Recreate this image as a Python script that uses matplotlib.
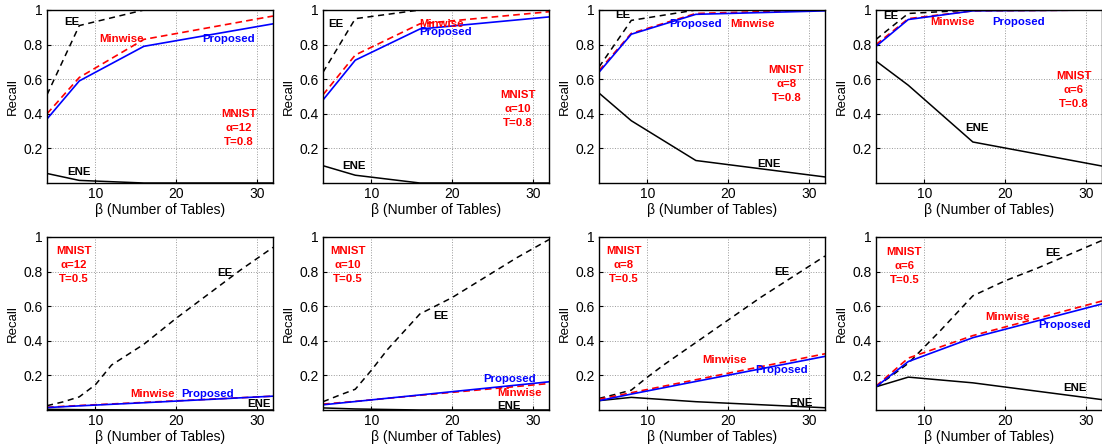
import matplotlib
matplotlib.use("Agg")
import matplotlib.pyplot as plt

plt.rcParams["font.family"] = ["Liberation Sans", "DejaVu Sans"]

# number of hash tables on the x axis
beta = [4, 8, 16, 32]
beta_fine = [4, 6, 8, 10, 12, 16, 20, 24, 28, 32]

alphas = [12, 10, 8, 6]
thresholds = [0.8, 0.5]

# recall at T=0.8, one list per alpha (12, 10, 8, 6)
ee_t08 = [[0.51, 0.91, 1.0, 1.0],
          [0.64, 0.95, 1.0, 1.0],
          [0.67, 0.94, 1.0, 1.0],
          [0.83, 0.98, 1.0, 1.0]]
minwise_t08 = [[0.40, 0.61, 0.83, 0.965],
               [0.51, 0.74, 0.92, 0.99],
               [0.65, 0.865, 0.98, 1.0],
               [0.80, 0.95, 0.995, 1.0]]
proposed_t08 = [[0.37, 0.59, 0.79, 0.92],
                [0.48, 0.71, 0.89, 0.96],
                [0.64, 0.86, 0.975, 0.995],
                [0.79, 0.945, 0.995, 1.0]]
ene_t08 = [[0.055, 0.015, 0.0, 0.0],
           [0.10, 0.045, 0.0, 0.0],
           [0.52, 0.36, 0.13, 0.035],
           [0.705, 0.565, 0.237, 0.098]]

# recall at T=0.5 (EE sampled on beta_fine)
ee_t05 = [[0.025, 0.047, 0.076, 0.146, 0.26, 0.38, 0.53, 0.67, 0.81, 0.94],
          [0.048, 0.085, 0.12, 0.23, 0.35, 0.555, 0.65, 0.765, 0.88, 0.985],
          [0.067, 0.09, 0.115, 0.19, 0.26, 0.39, 0.52, 0.65, 0.77, 0.89],
          [0.134, 0.20, 0.27, 0.365, 0.46, 0.66, 0.747, 0.82, 0.90, 0.98]]
minwise_t05 = [[0.016, 0.026, 0.044, 0.08],
               [0.034, 0.05, 0.085, 0.153],
               [0.062, 0.10, 0.175, 0.325],
               [0.138, 0.30, 0.43, 0.63]]
proposed_t05 = [[0.014, 0.024, 0.042, 0.08],
                [0.03, 0.049, 0.087, 0.163],
                [0.054, 0.092, 0.165, 0.31],
                [0.134, 0.28, 0.418, 0.613]]
ene_t05 = [[0.004, 0.002, 0.0, 0.0],
           [0.012, 0.006, 0.0, 0.0],
           [0.054, 0.073, 0.048, 0.013],
           [0.134, 0.19, 0.157, 0.06]]

# where the curve names and the dataset box sit in each panel (x, y)
label_pos = {
    (0.8, 12): dict(EE=(7.1, 0.93), Minwise=(13.2, 0.83), Proposed=(26.5, 0.83), ENE=(8.0, 0.065), info=(27.8, 0.32)),
    (0.8, 10): dict(EE=(5.6, 0.92), Minwise=(18.7, 0.92), Proposed=(19.2, 0.87), ENE=(7.9, 0.10), info=(28.1, 0.43)),
    (0.8, 8): dict(EE=(7.0, 0.97), Minwise=(23.0, 0.92), Proposed=(16.0, 0.92), ENE=(25.0, 0.11), info=(27.2, 0.575)),
    (0.8, 6): dict(EE=(5.9, 0.965), Minwise=(13.5, 0.93), Proposed=(21.7, 0.93), ENE=(16.5, 0.32), info=(28.5, 0.54)),
    (0.5, 12): dict(EE=(26.0, 0.79), Minwise=(17.1, 0.095), Proposed=(23.9, 0.095), ENE=(30.3, 0.035), info=(7.3, 0.84)),
    (0.5, 10): dict(EE=(18.6, 0.545), Minwise=(28.4, 0.096), Proposed=(27.1, 0.18), ENE=(27.1, 0.025), info=(7.1, 0.84)),
    (0.5, 8): dict(EE=(26.6, 0.80), Minwise=(19.6, 0.29), Proposed=(26.6, 0.23), ENE=(29.0, 0.04), info=(7.1, 0.84)),
    (0.5, 6): dict(EE=(25.9, 0.91), Minwise=(20.3, 0.54), Proposed=(27.3, 0.49), ENE=(28.6, 0.13), info=(7.5, 0.83)),
}

W, H = 1102, 447
fig = plt.figure(figsize=(W / 100, H / 100), dpi=100)

lefts = [47, 323, 599, 876]
row_bottoms = [183, 410]
ax_w, ax_h = 226, 173

series = {
    0.8: (ee_t08, minwise_t08, proposed_t08, ene_t08, beta),
    0.5: (ee_t05, minwise_t05, proposed_t05, ene_t05, beta_fine),
}

lab_kw = dict(fontsize=8.2, fontweight="bold", ha="center", va="center")

for r, T in enumerate(thresholds):
    ee, mw, pr, ene, ee_x = series[T]
    for c, a in enumerate(alphas):
        ax = fig.add_axes([lefts[c] / W, 1 - row_bottoms[r] / H, ax_w / W, ax_h / H])
        ax.plot(ee_x, ee[c], color="black", linestyle=(0, (4, 3)), linewidth=1.1)
        ax.plot(beta, ene[c], color="black", linewidth=1.1)
        ax.plot(beta, mw[c], color="red", linestyle=(0, (4, 2.5)), linewidth=1.2)
        ax.plot(beta, pr[c], color="blue", linewidth=1.2)

        ax.set_xlim(4, 32)
        ax.set_ylim(0, 1)
        ax.set_xticks([10, 20, 30])
        ax.set_yticks([0.2, 0.4, 0.6, 0.8, 1.0])
        ax.set_yticklabels(["0.2", "0.4", "0.6", "0.8", "1"])
        ax.tick_params(direction="in", length=3, labelsize=10, pad=3)
        ax.grid(True, linestyle=":", color="#999999", linewidth=0.7)
        for s in ax.spines.values():
            s.set_linewidth(1.0)
        ax.set_ylabel("Recall", fontsize=9.5, labelpad=3)
        ax.set_xlabel("β (Number of Tables)", fontsize=10, labelpad=1)

        pos = label_pos[(T, a)]
        ax.text(*pos["EE"], "EE", color="black", **lab_kw)
        ax.text(*pos["ENE"], "ENE", color="black", **lab_kw)
        ax.text(*pos["Minwise"], "Minwise", color="red", **lab_kw)
        ax.text(*pos["Proposed"], "Proposed", color="blue", **lab_kw)
        ax.text(*pos["info"], f"MNIST\nα={a}\nT={T}", color="red",
                linespacing=1.5, **lab_kw)

fig.savefig("out.png", dpi=100)
